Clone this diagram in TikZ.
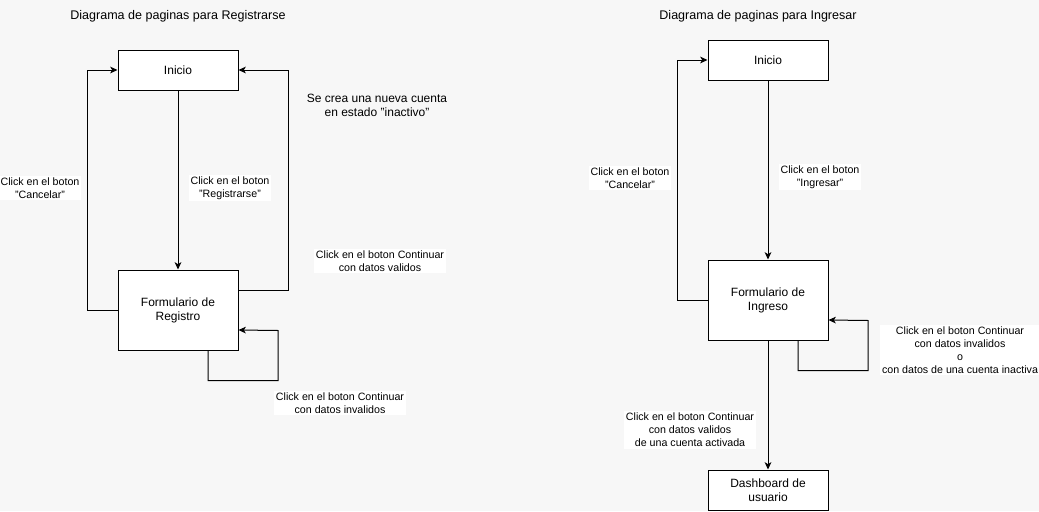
\documentclass[tikz,border=0pt]{standalone}
\usepackage{fontspec}
\setmainfont{Liberation Sans}
\usetikzlibrary{arrows.meta}
\definecolor{fondo}{RGB}{247,247,247}
\begin{document}
\begin{tikzpicture}[>={Stealth[length=5.5pt,width=5pt,inset=1.5pt]},x=0.75pt,y=-0.75pt,line width=0.75pt,
	pagina/.style={draw,fill=white,minimum width=90pt,minimum height=30pt,align=center,inner sep=2pt,font=\fontsize{9}{10.5}\selectfont},
	etiqueta/.style={fill=white,align=center,inner sep=1.2pt,font=\fontsize{8}{9.75}\selectfont},
	titulo/.style={align=center,inner sep=1pt,font=\fontsize{9}{10.5}\selectfont}]
	\fill[fondo] (0,0) rectangle (1039,511);
	\useasboundingbox (0,0) rectangle (1039,511);
	% Registrarse
	\node[titulo,font=\fontsize{9.4}{11}\selectfont] (tReg) at (178,16) {Diagrama de paginas para Registrarse};
	\node[pagina] (regI) at (178,70) {Inicio};
	\node[pagina,minimum height=60pt] (regF) at (178,310) {Formulario de\\Registro};
	\draw[->] (regI) -- (regF);
	\draw[->] (regF.west) -- ++(-30,0) |- (regI.west);
	\draw[->] ([yshift=15pt]regF.east) -- ++(50,0) |- (regI.east);
	\draw[->] ([xshift=22.5pt]regF.south) -- ++(0,30) -| ++(70,-50) -- ([yshift=-15pt]regF.east);
	\node[etiqueta] (lRegBoton) at (230,188) {Click en el boton\\"Registrarse"};
	\node[etiqueta] (lRegCancel) at (40,188) {Click en el boton\\"Cancelar"};
	\node[etiqueta] (lRegValid) at (380,261) {Click en el boton Continuar\\con datos validos};
	\node[etiqueta] (lRegInval) at (340,403) {Click en el boton Continuar\\con datos invalidos};
	\node[titulo] (nota) at (377,105) {Se crea una nueva cuenta\\en estado "inactivo"};
	% Ingresar
	\node[titulo,font=\fontsize{9.4}{11}\selectfont] (tIng) at (758,16) {Diagrama de paginas para Ingresar};
	\node[pagina] (ingI) at (768,60) {Inicio};
	\node[pagina,minimum height=60pt] (ingF) at (768,300) {Formulario de\\Ingreso};
	\node[pagina] (ingD) at (768,490) {Dashboard de\\usuario};
	\draw[->] (ingI) -- (ingF);
	\draw[->] (ingF) -- (ingD);
	\draw[->] (ingF.west) -- ++(-30,0) |- (ingI.west);
	\draw[->] ([xshift=22.5pt]ingF.south) -- ++(0,30) -| ++(70,-50) -- ([yshift=-15pt]ingF.east);
	\node[etiqueta] (lIngBoton) at (820,177) {Click en el boton\\"Ingresar"};
	\node[etiqueta] (lIngCancel) at (630,178) {Click en el boton\\"Cancelar"};
	\node[etiqueta] (lIngInval) at (960,350) {Click en el boton Continuar\\con datos invalidos\\o\\con datos de una cuenta inactiva};
	\node[etiqueta] (lIngValid) at (690,430) {Click en el boton Continuar\\con datos validos\\de una cuenta activada};
\end{tikzpicture}
\end{document}
